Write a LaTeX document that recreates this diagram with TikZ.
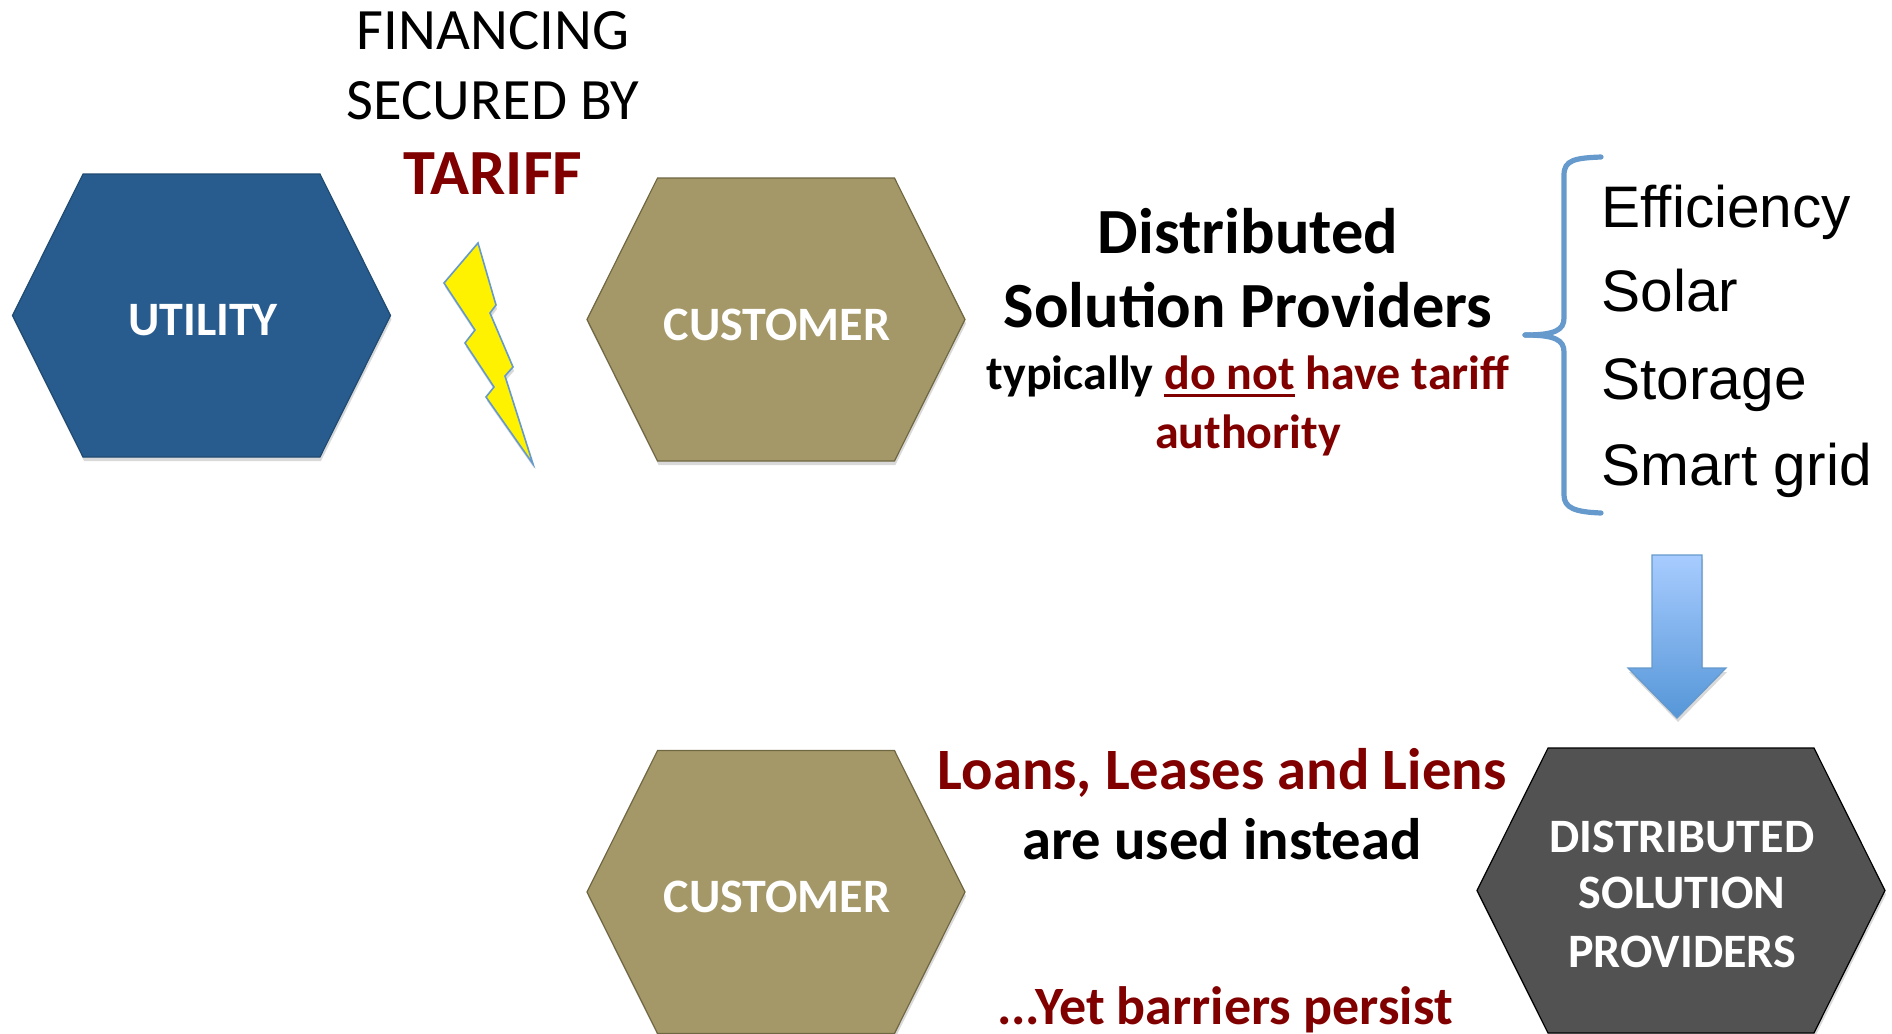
\documentclass[tikz,border=0pt]{standalone}
\usepackage{fontspec}
\setmainfont{Carlito}
\newfontfamily\listfont{Liberation Sans}
\usetikzlibrary{shapes.symbols,shadows}
\definecolor{utilityblue}{HTML}{285C8E}
\definecolor{utilityline}{HTML}{1F4A72}
\definecolor{customertan}{HTML}{A59868}
\definecolor{customerline}{HTML}{6F6642}
\definecolor{providergray}{HTML}{525252}
\definecolor{darkred}{HTML}{800000}
\definecolor{braceblue}{HTML}{6699CC}
\definecolor{arrowtop}{HTML}{A8CCFF}
\definecolor{arrowbottom}{HTML}{5596D8}
\newcommand{\thickunder}[1]{\setbox0\hbox{#1}\rlap{\rule[-4pt]{\wd0}{1.4pt}}\box0\relax}
\tikzset{
    softshadow/.style={drop shadow={shadow xshift=.5pt, shadow yshift=-2pt, fill=black, opacity=.15}},
    hexagon/.style={signal, signal to=west and east, signal pointer angle=127, minimum width=189pt, minimum height=141.5pt, inner sep=0pt, outer sep=0pt, line width=.6pt, softshadow},
    hexlabel/.style={anchor=base, align=center, text=white, font=\bfseries\fontsize{24}{24}\selectfont},
    plaintext/.style={anchor=base, inner sep=0pt, font=\fontsize{29.3}{29.3}\selectfont},
    bigtext/.style={anchor=base, inner sep=0pt, font=\bfseries\fontsize{32.2}{32.2}\selectfont},
    midtext/.style={anchor=base, inner sep=0pt, font=\bfseries\fontsize{29.3}{29.3}\selectfont},
    smalltext/.style={anchor=base, inner sep=0pt, font=\bfseries\fontsize{24}{24}\selectfont},
    listtext/.style={anchor=base west, inner sep=0pt, font=\listfont\fontsize{29.3}{29.3}\selectfont},
}
\begin{document}
\begin{tikzpicture}[x=0.5pt, y=-0.5pt]
    \useasboundingbox (0,0) rectangle (1892,1034);

    % Hexagons
    \node[hexagon, fill=utilityblue, draw=utilityline] (utility) at (201.5,315.5) {};
    \node[hexagon, fill=customertan, draw=customerline] (customer1) at (776,319.5) {};
    \node[hexagon, fill=customertan, draw=customerline] (customer2) at (776,892) {};
    \node[hexagon, fill=providergray, draw=black, minimum width=204pt, minimum height=142.5pt] (provider) at (1681,890.5) {};

    % Hexagon labels
    \node[hexlabel] (utilitytext) at (203,335) {UTILITY};
    \node[hexlabel] (customertext1) at (777,340) {CUSTOMER};
    \node[hexlabel] (customertext2) at (777,912) {CUSTOMER};
    \node[hexlabel] (providertext1) at (1682,852) {DISTRIBUTED};
    \node[hexlabel] (providertext2) at (1682,908) {SOLUTION};
    \node[hexlabel] (providertext3) at (1682,967) {PROVIDERS};

    % Financing text
    \node[plaintext] (financing) at (493,49.5) {FINANCING};
    \node[plaintext] (secured) at (493,119) {SECURED BY};
    \node[bigtext, text=darkred] (tariff) at (493,194) {TARIFF};

    % Lightning bolt
    \draw[fill=yellow, draw=braceblue, line width=.8pt, softshadow] (478,243) -- (496,305) -- (490,313) -- (513,367) -- (505,376)
        -- (533,464) -- (486,397) -- (494,387) -- (465,343) -- (475,330) -- (444,283) -- cycle;

    % Middle text
    \node[bigtext] (dist1) at (1248,253) {Distributed};
    \node[bigtext] (dist2) at (1248,327) {Solution Providers};
    \node[smalltext] (tariff1) at (1248,389) {typically \textcolor{darkred}{\thickunder{do not} have tariff}};
    \node[smalltext, text=darkred] (tariff2) at (1248,448) {authority};

    % Brace
    \draw[braceblue, line width=2.6pt, line cap=round] (1601,157) .. controls (1575,158) and (1564,160) .. (1564,175)
        -- (1564,318) .. controls (1564,330) and (1555,335) .. (1525,335);
    \draw[braceblue, line width=2.6pt, line cap=round] (1525,335) .. controls (1555,335) and (1564,340) .. (1564,352)
        -- (1564,495) .. controls (1564,508) and (1575,512) .. (1601,513);

    % List
    \foreach \y/\word in {227/Efficiency, 311/Solar, 399/Storage, 485/Smart grid} {
        \node[listtext] (item\y) at (1601,\y) {\word};
    }

    % Arrow
    \draw[draw=braceblue, line width=.6pt, top color=arrowtop, bottom color=arrowbottom, softshadow] (1652,555) -- (1702,555) -- (1702,668)
        -- (1726,668) -- (1677,718) -- (1628,668) -- (1652,668) -- cycle;

    % Lower text
    \node[midtext, text=darkred] (loans) at (1222,789) {Loans, Leases and Liens};
    \node[midtext] (instead) at (1222,859) {are used instead};
    \node[midtext, text=darkred, font=\bfseries\fontsize{27}{27}\selectfont] (barriers) at (1225,1024) {...Yet barriers persist};
\end{tikzpicture}
\end{document}
